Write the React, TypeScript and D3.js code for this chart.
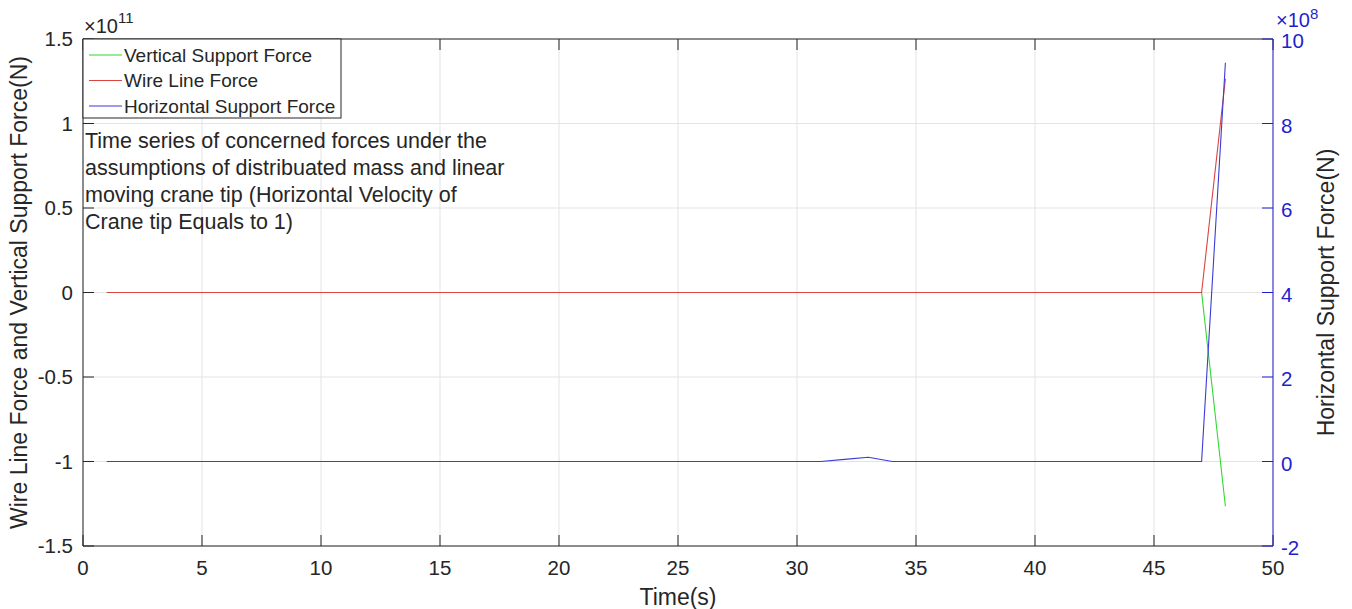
import React from "react";
import * as d3 from "d3";

// Sample times (s)
const time: number[] = [
  1, 2, 3, 4, 5, 6, 7, 8, 9, 10, 11, 12, 13, 14, 15, 16, 17, 18, 19, 20, 21, 22, 23, 24,
  25, 26, 27, 28, 29, 30, 31, 32, 33, 34, 35, 36, 37, 38, 39, 40, 41, 42, 43, 44, 45, 46, 47, 48,
];

// Vertical support force (N), left axis
const verticalSupport: number[] = [
  0, 0, 0, 0, 0, 0, 0, 0, 0, 0, 0, 0, 0, 0, 0, 0, 0, 0, 0, 0, 0, 0, 0, 0,
  0, 0, 0, 0, 0, 0, 0, 0, 0, 0, 0, 0, 0, 0, 0, 0, 0, 0, 0, 0, 0, 0, 0, -1.265e11,
];

// Wire line force (N), left axis
const wireLine: number[] = [
  0, 0, 0, 0, 0, 0, 0, 0, 0, 0, 0, 0, 0, 0, 0, 0, 0, 0, 0, 0, 0, 0, 0, 0,
  0, 0, 0, 0, 0, 0, 0, 0, 0, 0, 0, 0, 0, 0, 0, 0, 0, 0, 0, 0, 0, 0, 0, 1.265e11,
];

// Horizontal support force (N), right axis
const horizontalSupport: number[] = [
  0, 0, 0, 0, 0, 0, 0, 0, 0, 0, 0, 0, 0, 0, 0, 0, 0, 0, 0, 0, 0, 0, 0, 0,
  0, 0, 0, 0, 0, 0, 0, 0.05e8, 0.1e8, 0, 0, 0, 0, 0, 0, 0, 0, 0, 0, 0, 0, 0, 0, 9.44e8,
];

const xTicks: number[] = [0, 5, 10, 15, 20, 25, 30, 35, 40, 45, 50];
const leftTicks: number[] = [-1.5, -1, -0.5, 0, 0.5, 1, 1.5];
const leftTickLabels: string[] = ["-1.5", "-1", "-0.5", "0", "0.5", "1", "1.5"];
const rightTicks: number[] = [-2, 0, 2, 4, 6, 8, 10];
const legendLabels: string[] = ["Vertical Support Force", "Wire Line Force", "Horizontal Support Force"];
const noteLines: string[] = [
  "Time series of concerned forces under the",
  "assumptions of distribuated mass and linear",
  "moving crane tip (Horizontal Velocity of",
  "Crane tip Equals to 1)",
];

const W = 1352;
const H = 609;
const M = { left: 83, right: 1273, top: 39, bottom: 546 };
const FONT = "'Liberation Sans', Arial, Helvetica, sans-serif";
const GREEN = "#30d830";
const RED = "#d94440";
const BLUE = "#3b3bd6";
const AXIS_BLUE = "#1f1fd0";
const INK = "#262626";
const GRID = "#e3e3e3";

export default function App() {
  const x = d3.scaleLinear().domain([0, 50]).range([M.left, M.right]);
  const yL = d3.scaleLinear().domain([-1.5e11, 1.5e11]).range([M.bottom, M.top]);
  const yR = d3.scaleLinear().domain([-2e8, 10e8]).range([M.bottom, M.top]);

  const lineL = d3
    .line<number>()
    .x((_, i) => x(time[i]))
    .y((d) => yL(d));
  const lineR = d3
    .line<number>()
    .x((_, i) => x(time[i]))
    .y((d) => yR(d));

  const tickLen = 11;
  const legendColors = [GREEN, RED, BLUE];

  return (
    <svg
      width={W}
      height={H}
      style={{ position: "absolute", left: 0, top: 0, background: "#fff" }}
      fontFamily={FONT}
    >
      <rect x={0} y={0} width={W} height={H} fill="#fff" />

      {/* grid */}
      <g stroke={GRID} strokeWidth={1}>
        {xTicks.map((t) => (
          <line key={"gx" + t} x1={x(t)} x2={x(t)} y1={M.top} y2={M.bottom} />
        ))}
        {leftTicks.map((t) => (
          <line key={"gy" + t} x1={M.left} x2={M.right} y1={yL(t * 1e11)} y2={yL(t * 1e11)} />
        ))}
      </g>

      {/* data */}
      <g fill="none" strokeWidth={1.1}>
        <path d={lineL(verticalSupport) ?? ""} stroke={GREEN} />
        <path d={lineL(wireLine) ?? ""} stroke={RED} />
        <path d={lineR(horizontalSupport) ?? ""} stroke={BLUE} />
      </g>

      {/* axes box */}
      <g stroke={INK} strokeWidth={1}>
        <line x1={M.left} x2={M.right} y1={M.bottom} y2={M.bottom} />
        <line x1={M.left} x2={M.right} y1={M.top} y2={M.top} />
        <line x1={M.left} x2={M.left} y1={M.top} y2={M.bottom} />
        {xTicks.map((t) => (
          <g key={"xt" + t}>
            <line x1={x(t)} x2={x(t)} y1={M.bottom} y2={M.bottom - tickLen} />
            <line x1={x(t)} x2={x(t)} y1={M.top} y2={M.top + tickLen} />
          </g>
        ))}
        {leftTicks.map((t) => (
          <line key={"lt" + t} x1={M.left} x2={M.left + tickLen} y1={yL(t * 1e11)} y2={yL(t * 1e11)} />
        ))}
      </g>
      <g stroke={AXIS_BLUE} strokeWidth={1}>
        <line x1={M.right} x2={M.right} y1={M.top} y2={M.bottom} />
        {rightTicks.map((t) => (
          <line key={"rt" + t} x1={M.right} x2={M.right - tickLen} y1={yR(t * 1e8)} y2={yR(t * 1e8)} />
        ))}
      </g>

      {/* tick labels */}
      <g fontSize={20.5} fill={INK}>
        {xTicks.map((t) => (
          <text key={"xl" + t} x={x(t)} y={575} textAnchor="middle">
            {t}
          </text>
        ))}
        {leftTicks.map((t, i) => (
          <text key={"ll" + t} x={73} y={yL(t * 1e11) + 7} textAnchor="end">
            {leftTickLabels[i]}
          </text>
        ))}
      </g>
      <g fontSize={20.5} fill={AXIS_BLUE}>
        {rightTicks.map((t) => (
          <text key={"rl" + t} x={M.right + 8} y={yR(t * 1e8) + 9} textAnchor="start">
            {t}
          </text>
        ))}
      </g>

      {/* exponent labels */}
      <text x={84} y={33} fontSize={20} fill={INK}>
        ×10<tspan dy={-10} fontSize={15}>11</tspan>
      </text>
      <text x={1276} y={27} fontSize={20} fill={AXIS_BLUE}>
        ×10<tspan dy={-8} fontSize={15}>8</tspan>
      </text>

      {/* axis titles */}
      <text x={(M.left + M.right) / 2} y={605} fontSize={23} fill={INK} textAnchor="middle">
        Time(s)
      </text>
      <text
        transform={`translate(27,${(M.top + M.bottom) / 2}) rotate(-90)`}
        fontSize={23}
        fill={INK}
        textAnchor="middle"
      >
        Wire Line Force and Vertical Support Force(N)
      </text>
      <text
        transform={`translate(1334,${(M.top + M.bottom) / 2}) rotate(-90)`}
        fontSize={23}
        fill={INK}
        textAnchor="middle"
      >
        Horizontal Support Force(N)
      </text>

      {/* legend */}
      <rect x={M.left} y={M.top} width={258} height={79} fill="#fff" stroke={INK} strokeWidth={1} />
      {legendLabels.map((lab, i) => {
        const cy = 55 + i * 25.5;
        return (
          <g key={lab}>
            <line x1={89} x2={122} y1={cy} y2={cy} stroke={legendColors[i]} strokeWidth={1.1} />
            <text x={124} y={cy + 6.5} fontSize={19} fill={INK}>
              {lab}
            </text>
          </g>
        );
      })}

      {/* annotation */}
      <g fontSize={21.5} fill={INK}>
        {noteLines.map((ln, i) => (
          <text key={i} x={85} y={148 + i * 27}>
            {ln}
          </text>
        ))}
      </g>
    </svg>
  );
}
